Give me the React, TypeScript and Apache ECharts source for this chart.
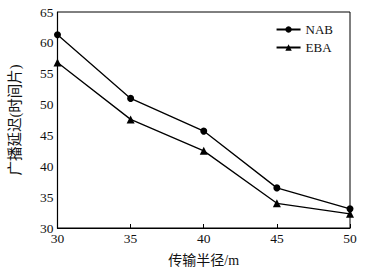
import React, { useEffect, useRef } from "react";
import * as echarts from "echarts";

const radii = ["30", "35", "40", "45", "50"];
const nabValues = [61.3, 51.0, 45.7, 36.5, 33.1];
const ebaValues = [56.8, 47.6, 42.5, 34.0, 32.3];
const seriesNames = ["NAB", "EBA"];
const xAxisName = "传输半径/m";
const yAxisName = "广播延迟(时间片)";

const FONT = "'Liberation Serif', 'Noto Sans CJK SC', serif";

export default function App() {
  const ref = useRef<HTMLDivElement>(null);
  useEffect(() => {
    if (!ref.current) return;
    const chart = echarts.init(ref.current, undefined, { renderer: "svg" });
    chart.setOption({
      animation: false,
      backgroundColor: "#fff",
      grid: { left: 53, right: 40, top: 12, bottom: 43, show: true, borderColor: "#000", borderWidth: 1 },
      legend: {
        right: 52,
        top: 18,
        orient: "vertical",
        itemWidth: 24,
        itemHeight: 8,
        itemGap: 5,
        textStyle: { fontFamily: FONT, fontSize: 13, color: "#111" },
        data: seriesNames,
      },
      xAxis: {
        type: "category",
        data: radii,
        boundaryGap: false,
        name: xAxisName,
        nameLocation: "middle",
        nameGap: 25,
        nameTextStyle: { fontFamily: FONT, fontSize: 14, color: "#111" },
        axisLine: { lineStyle: { color: "#000", width: 1.2 } },
        axisTick: { inside: true, length: 4, lineStyle: { color: "#000" } },
        axisLabel: { fontFamily: FONT, fontSize: 13.5, color: "#111", margin: 4 },
        splitLine: { show: false },
      },
      yAxis: {
        type: "value",
        min: 30,
        max: 65,
        interval: 5,
        name: yAxisName,
        nameLocation: "middle",
        nameGap: 35,
        nameTextStyle: { fontFamily: FONT, fontSize: 14.5, color: "#111" },
        axisLine: { show: true, lineStyle: { color: "#000", width: 1.2 } },
        axisTick: { inside: true, length: 4, lineStyle: { color: "#000" } },
        axisLabel: { fontFamily: FONT, fontSize: 13.5, color: "#111", margin: 4 },
        splitLine: { show: false },
      },
      series: [
        {
          name: seriesNames[0],
          type: "line",
          data: nabValues,
          symbol: "circle",
          symbolSize: 7,
          lineStyle: { color: "#000", width: 1.3 },
          itemStyle: { color: "#000" },
        },
        {
          name: seriesNames[1],
          type: "line",
          data: ebaValues,
          symbol: "triangle",
          symbolSize: 8,
          lineStyle: { color: "#000", width: 1.3 },
          itemStyle: { color: "#000" },
        },
      ],
    });
    return () => chart.dispose();
  }, []);
  return <div ref={ref} style={{ width: 390, height: 272, position: "absolute", left: 0, top: 0 }} />;
}
